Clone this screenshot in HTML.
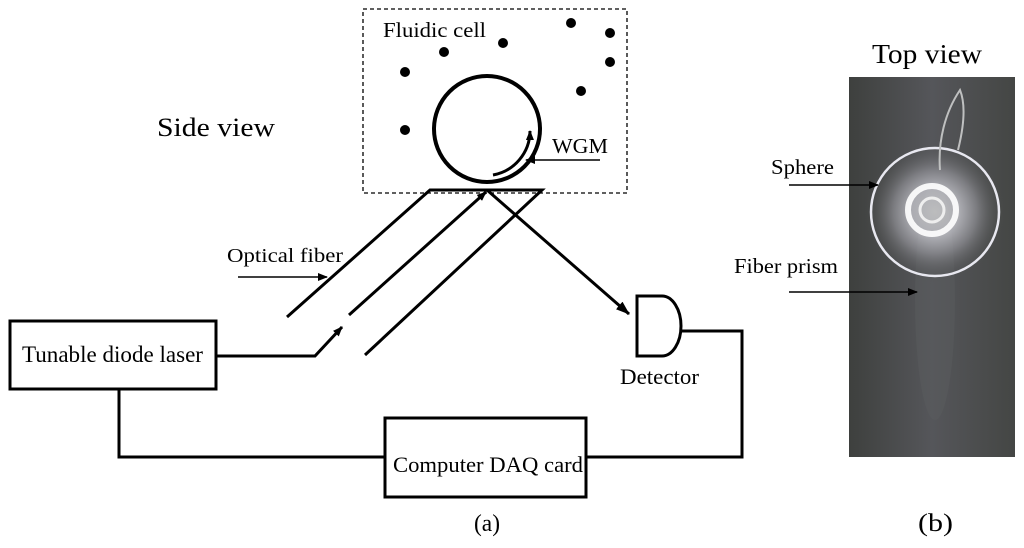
<!DOCTYPE html>
<html><head><meta charset="utf-8"><style>
html,body{margin:0;padding:0;background:#fff;}
svg{display:block;}
text{font-family:"Liberation Serif",serif;fill:#000;}
</style></head><body>
<svg width="1024" height="548" viewBox="0 0 1024 548" xmlns="http://www.w3.org/2000/svg">
<defs>
<marker id="ah" markerWidth="10" markerHeight="8" refX="9" refY="4" orient="auto" markerUnits="userSpaceOnUse">
<path d="M0,0 L10,4 L0,8 Z" fill="#000"/></marker>
<marker id="ah2" markerWidth="14" markerHeight="10" refX="13" refY="5" orient="auto" markerUnits="userSpaceOnUse">
<path d="M0,0 L14,5 L0,10 Z" fill="#000"/></marker>
<radialGradient id="glow" cx="0.5" cy="0.5" r="0.5">
<stop offset="0" stop-color="#fff"/><stop offset="0.35" stop-color="#e8e8f0"/><stop offset="0.6" stop-color="#9a9aa0"/><stop offset="1" stop-color="#4a4b4a" stop-opacity="0"/></radialGradient>
<linearGradient id="bg" x1="0" x2="1"><stop offset="0" stop-color="#3e403e"/><stop offset="0.5" stop-color="#55565a"/><stop offset="1" stop-color="#444644"/></linearGradient>
</defs>
<rect x="363" y="9" width="264" height="184" fill="none" stroke="#000" stroke-width="1.3" stroke-dasharray="4,3"/>
<text x="383" y="37" font-size="21" textLength="103" lengthAdjust="spacingAndGlyphs">Fluidic cell</text>
<g fill="#000">
<circle cx="405" cy="72" r="5"/><circle cx="444" cy="52" r="5"/><circle cx="503" cy="43" r="5"/>
<circle cx="571" cy="23" r="5"/><circle cx="610" cy="33" r="5"/><circle cx="610" cy="62" r="5"/>
<circle cx="581" cy="91" r="5"/><circle cx="405" cy="130" r="5"/>
</g>
<circle cx="487" cy="129" r="53" fill="none" stroke="#000" stroke-width="4"/>
<path d="M493,175 A45,45 0 0 0 530,131" fill="none" stroke="#000" stroke-width="3" marker-end="url(#ah)"/>
<line x1="600" y1="160" x2="526" y2="160" stroke="#000" stroke-width="1.5" marker-end="url(#ah)"/>
<text x="552" y="153" font-size="21" textLength="56" lengthAdjust="spacingAndGlyphs">WGM</text>
<text x="157" y="136" font-size="26" textLength="118" lengthAdjust="spacingAndGlyphs">Side view</text>
<g stroke="#000" stroke-width="3" fill="none">
<polyline points="287,317 430,190 542,190 365,355"/>
<line x1="349" y1="315" x2="486" y2="192" marker-end="url(#ah)"/>
<polyline points="216,356 315,356 342,327" marker-end="url(#ah)"/>
<line x1="487" y1="190" x2="629" y2="314" marker-end="url(#ah2)"/>
<path d="M637,296 L662,296 A19,30 0 0 1 662,356 L637,356 Z"/>
<polyline points="682,331 742,331 742,457 586,457"/>
<polyline points="119,389 119,457 385,457"/>
<rect x="10" y="321" width="206" height="68"/>
<rect x="385" y="418" width="201" height="79"/>
</g>
<text x="227" y="262" font-size="20" textLength="116" lengthAdjust="spacingAndGlyphs">Optical fiber</text>
<line x1="238" y1="277" x2="327" y2="277" stroke="#000" stroke-width="1.5" marker-end="url(#ah)"/>
<text x="22" y="362" font-size="23" textLength="181" lengthAdjust="spacingAndGlyphs">Tunable diode laser</text>
<text x="393" y="472" font-size="22" textLength="190" lengthAdjust="spacingAndGlyphs">Computer DAQ card</text>
<text x="620" y="384" font-size="22" textLength="79" lengthAdjust="spacingAndGlyphs">Detector</text>
<text x="474" y="531" font-size="24" textLength="26" lengthAdjust="spacingAndGlyphs">(a)</text>
<rect x="849" y="77" width="166" height="380" fill="url(#bg)"/>
<ellipse cx="935" cy="300" rx="20" ry="120" fill="#5a5b5e" opacity="0.5"/>
<circle cx="935" cy="212" r="70" fill="url(#glow)" opacity="0.6"/>
<circle cx="935" cy="212" r="64" fill="none" stroke="#e8e8f0" stroke-width="2.5"/>
<path d="M940,170 A90,110 0 0 1 960,90 Q968,110 958,150" fill="none" stroke="#bfc0c0" stroke-width="2"/>
<circle cx="932" cy="210" r="24" fill="none" stroke="#fff" stroke-width="6" opacity="0.9"/>
<circle cx="932" cy="210" r="12" fill="none" stroke="#eee" stroke-width="3"/>
<text x="872" y="63" font-size="27" textLength="110" lengthAdjust="spacingAndGlyphs">Top view</text>
<text x="771" y="174" font-size="21" textLength="63" lengthAdjust="spacingAndGlyphs">Sphere</text>
<line x1="789" y1="185" x2="878" y2="185" stroke="#000" stroke-width="1.5" marker-end="url(#ah)"/>
<text x="734" y="273" font-size="21" textLength="104" lengthAdjust="spacingAndGlyphs">Fiber prism</text>
<line x1="789" y1="292" x2="917" y2="292" stroke="#000" stroke-width="1.5" marker-end="url(#ah)"/>
<text x="918" y="531" font-size="25" textLength="35" lengthAdjust="spacingAndGlyphs">(b)</text>
</svg>
</body></html>
